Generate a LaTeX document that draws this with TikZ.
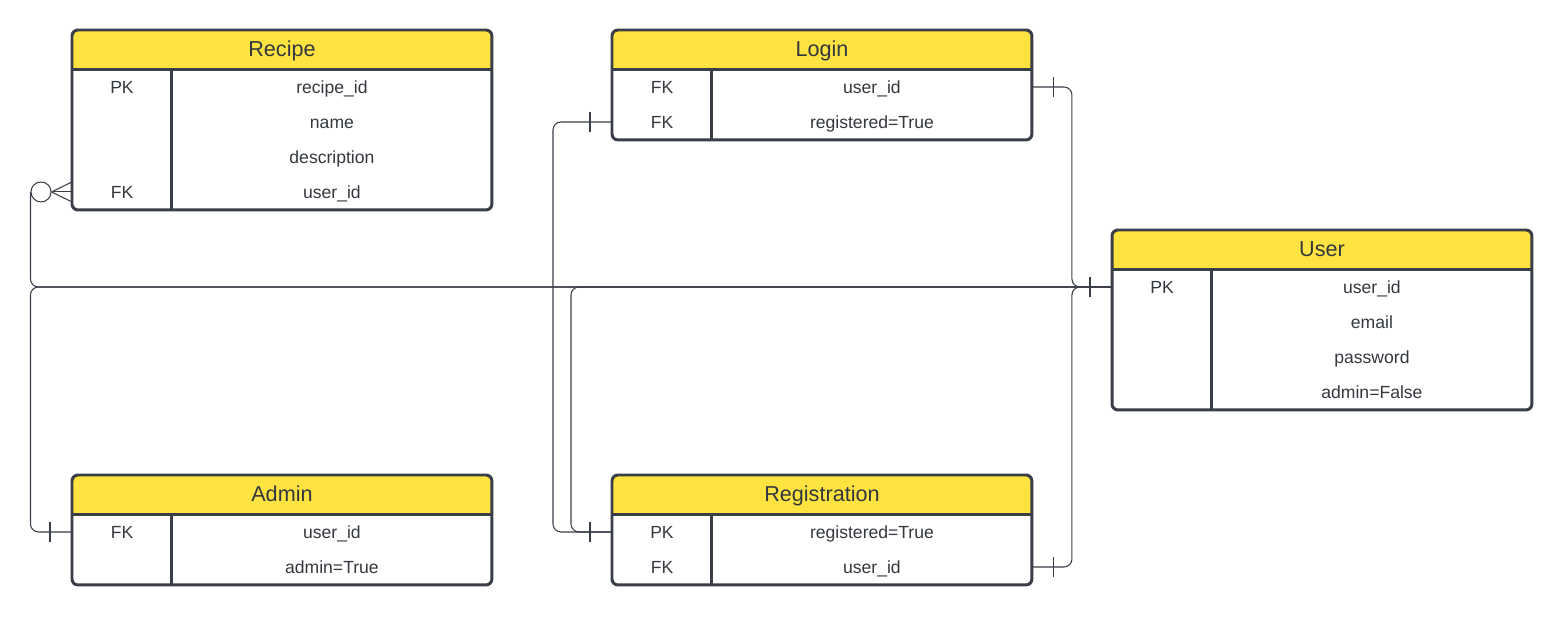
\documentclass[tikz,border=0pt]{standalone}
\usepackage{fontspec}
\setmainfont{Liberation Sans}
\usetikzlibrary{positioning, calc, decorations.markings}
\definecolor{hdrYellow}{RGB}{255,227,64}
\definecolor{edgeGray}{RGB}{58,62,72}
\definecolor{textGray}{RGB}{51,55,62}

\begin{document}
\begin{tikzpicture}[
    x=0.02cm, y=-0.02cm,
    every node/.style={text=textGray},
    erTable/.style={draw=edgeGray, line width=1.7pt, rounded corners=0.12cm,
        minimum width=8.4cm, inner sep=0pt, outer sep=0pt, anchor=north west,
        path picture={
            \fill[hdrYellow, sharp corners] (path picture bounding box.north west)
                rectangle ([yshift=-0.8cm]path picture bounding box.north east);
            \draw[edgeGray, line width=1.7pt] ([yshift=-0.8cm]path picture bounding box.north west)
                -- ([yshift=-0.8cm]path picture bounding box.north east);
            \draw[edgeGray, line width=1.7pt] ([xshift=2cm, yshift=-0.8cm]path picture bounding box.north west)
                -- ([xshift=2cm]path picture bounding box.south west);
        }},
    titleText/.style={font=\fontsize{12.3}{14}\selectfont, text height=8.8pt, text depth=0pt, inner sep=0pt},
    rowText/.style={font=\fontsize{10}{12}\selectfont, text height=7.2pt, text depth=0pt, inner sep=0pt},
    conn/.style={draw=edgeGray, line width=0.6pt, rounded corners=0.16cm},
    oneStart/.style={postaction={decorate, decoration={markings,
        mark=at position 0.44cm with {\draw[edgeGray, line width=0.6pt] (0,-0.2cm) -- (0,0.2cm);}}}},
    oneEnd/.style={postaction={decorate, decoration={markings,
        mark=at position -0.44cm with {\draw[edgeGray, line width=0.6pt] (0,-0.2cm) -- (0,0.2cm);}}}}
]
    \useasboundingbox (0,0) rectangle (1566,621);

    % Recipe table
    \node[erTable, minimum height=3.6cm] (recipe) at (72,30) {};
    \node[titleText] (recipeTitle) at ([yshift=-0.37cm]recipe.north) {Recipe};
    \foreach \k/\f [count=\i] in {PK/recipe\_id, /name, /description, FK/user\_id} {
        \node[rowText] (recipeK\i) at ([xshift=1cm, yshift={-0.44cm-\i*0.7cm}]recipe.north west) {\k};
        \node[rowText] (recipeF\i) at ([xshift=5.2cm, yshift={-0.44cm-\i*0.7cm}]recipe.north west) {\f};
    }

    % Login table
    \node[erTable, minimum height=2.2cm] (login) at (612,30) {};
    \node[titleText] (loginTitle) at ([yshift=-0.37cm]login.north) {Login};
    \foreach \k/\f [count=\i] in {FK/user\_id, FK/registered=True} {
        \node[rowText] (loginK\i) at ([xshift=1cm, yshift={-0.44cm-\i*0.7cm}]login.north west) {\k};
        \node[rowText] (loginF\i) at ([xshift=5.2cm, yshift={-0.44cm-\i*0.7cm}]login.north west) {\f};
    }

    % User table
    \node[erTable, minimum height=3.6cm] (user) at (1112,230) {};
    \node[titleText] (userTitle) at ([yshift=-0.37cm]user.north) {User};
    \foreach \k/\f [count=\i] in {PK/user\_id, /email, /password, /admin=False} {
        \node[rowText] (userK\i) at ([xshift=1cm, yshift={-0.44cm-\i*0.7cm}]user.north west) {\k};
        \node[rowText] (userF\i) at ([xshift=5.2cm, yshift={-0.44cm-\i*0.7cm}]user.north west) {\f};
    }

    % Admin table
    \node[erTable, minimum height=2.2cm] (admin) at (72,475) {};
    \node[titleText] (adminTitle) at ([yshift=-0.37cm]admin.north) {Admin};
    \foreach \k/\f [count=\i] in {FK/user\_id, /admin=True} {
        \node[rowText] (adminK\i) at ([xshift=1cm, yshift={-0.44cm-\i*0.7cm}]admin.north west) {\k};
        \node[rowText] (adminF\i) at ([xshift=5.2cm, yshift={-0.44cm-\i*0.7cm}]admin.north west) {\f};
    }

    % Registration table
    \node[erTable, minimum height=2.2cm] (reg) at (612,475) {};
    \node[titleText] (regTitle) at ([yshift=-0.37cm]reg.north) {Registration};
    \foreach \k/\f [count=\i] in {PK/registered=True, FK/user\_id} {
        \node[rowText] (regK\i) at ([xshift=1cm, yshift={-0.44cm-\i*0.7cm}]reg.north west) {\k};
        \node[rowText] (regF\i) at ([xshift=5.2cm, yshift={-0.44cm-\i*0.7cm}]reg.north west) {\f};
    }

    % Recipe -> User (many)
    \node[circle, draw=edgeGray, line width=0.6pt, minimum size=0.4cm, inner sep=0pt]
        (recipeCrow) at ($(recipe.west |- recipeF4)+(-31,0)$) {};
    \foreach \dy in {-10,0,10}
        \draw[conn] (recipeCrow.east) -- ($(recipe.west |- recipeF4)+(0,\dy)$);
    \draw[conn, oneEnd] (recipeCrow.west) |- (user.west |- userF1);

    % Admin -> User
    \draw[conn, oneStart, oneEnd] (admin.west |- adminF1) -| (recipeCrow.west |- userF1) -- (user.west |- userF1);

    % Login / Registration -> User
    \coordinate (userBus) at ($(login.east |- userF1)!0.5!(user.west |- userF1)$);
    \draw[conn, oneStart, oneEnd] (login.east |- loginF1) -| (userBus) -- (user.west |- userF1);
    \draw[conn, oneStart, oneEnd] (reg.east |- regF2) -| (userBus) -- (user.west |- userF1);

    % Login -> Registration
    \draw[conn, oneStart, oneEnd] (login.west |- loginF2) -- ++(-59,0) |- (reg.west |- regF1);

    % User -> Registration
    \draw[conn, oneStart, oneEnd] (user.west |- userF1) -| ($(reg.west |- regF1)+(-41,0)$) -- (reg.west |- regF1);
\end{tikzpicture}
\end{document}
